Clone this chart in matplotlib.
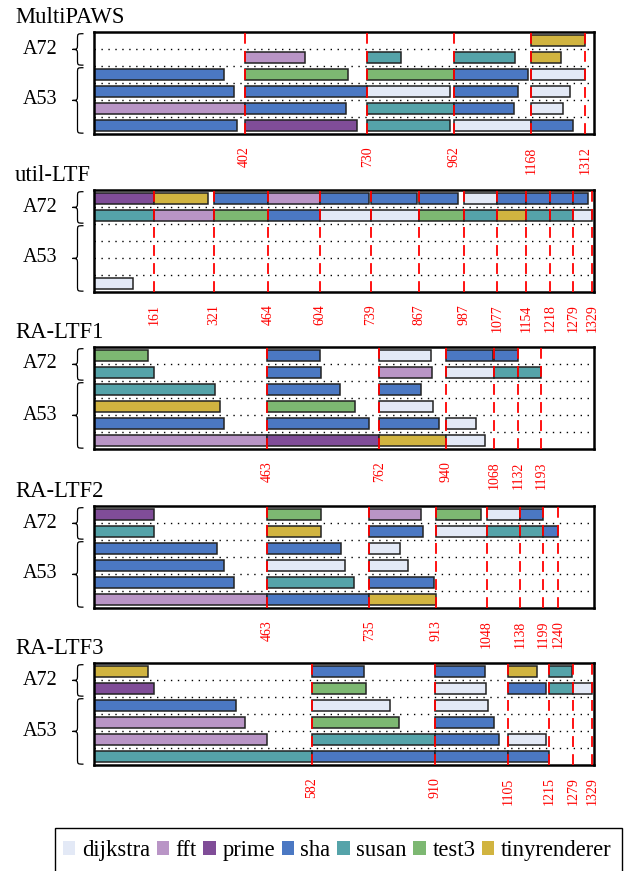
import matplotlib
matplotlib.use("Agg")
import matplotlib.pyplot as plt
from matplotlib.path import Path
from matplotlib.patches import PathPatch, Patch, Rectangle
from matplotlib.transforms import blended_transform_factory

plt.rcParams['font.family'] = ['Liberation Serif', 'DejaVu Serif']

# task colours
tasks = ["dijkstra", "fft", "prime", "sha", "susan", "test3", "tinyrenderer"]
colors = {"dijkstra": "#e3e9f6", "fft": "#b995c6", "prime": "#804d98",
          "sha": "#4b78c3", "susan": "#55a3a9", "test3": "#7db872",
          "tinyrenderer": "#d1b440"}

# rows 0-1 = A72 cores, rows 2-5 = A53 cores; (task, start, end)
mp_rows = [
    [("tinyrenderer", 1168, 1312)],
    [("fft", 402, 563), ("susan", 730, 821), ("susan", 962, 1124), ("tinyrenderer", 1168, 1246)],
    [("sha", 0, 348), ("test3", 402, 679), ("test3", 730, 962), ("sha", 962, 1159), ("dijkstra", 1168, 1311)],
    [("sha", 0, 375), ("sha", 402, 730), ("dijkstra", 730, 951), ("sha", 962, 1133), ("dijkstra", 1168, 1272)],
    [("fft", 0, 402), ("sha", 402, 674), ("susan", 730, 960), ("sha", 962, 1122), ("dijkstra", 1168, 1251)],
    [("sha", 0, 381), ("prime", 402, 701), ("susan", 730, 951), ("dijkstra", 962, 1168), ("sha", 1168, 1280)],
]
mp_ticks = [402, 730, 962, 1168, 1312]

ul_rows = [
    [("prime", 0, 161), ("tinyrenderer", 161, 305), ("sha", 321, 464), ("fft", 464, 604), ("sha", 604, 735),
     ("sha", 739, 863), ("sha", 867, 972), ("dijkstra", 987, 1075), ("sha", 1077, 1153), ("sha", 1154, 1218),
     ("sha", 1218, 1279), ("sha", 1279, 1320)],
    [("susan", 0, 161), ("fft", 161, 321), ("test3", 321, 464), ("sha", 464, 604), ("dijkstra", 604, 739),
     ("dijkstra", 739, 867), ("test3", 867, 987), ("susan", 987, 1077), ("tinyrenderer", 1077, 1154),
     ("susan", 1154, 1218), ("susan", 1218, 1279), ("dijkstra", 1279, 1329)],
    [],
    [],
    [],
    [("dijkstra", 0, 104)],
]
ul_ticks = [161, 321, 464, 604, 739, 867, 987, 1077, 1154, 1218, 1279, 1329]

r1_rows = [
    [("test3", 0, 143), ("sha", 463, 604), ("dijkstra", 762, 899), ("sha", 940, 1066), ("sha", 1068, 1132)],
    [("susan", 0, 161), ("sha", 463, 606), ("fft", 762, 902), ("dijkstra", 940, 1068), ("susan", 1068, 1132),
     ("susan", 1132, 1193)],
    [("susan", 0, 324), ("sha", 463, 658), ("sha", 762, 873)],
    [("tinyrenderer", 0, 337), ("test3", 463, 696), ("dijkstra", 762, 904)],
    [("sha", 0, 348), ("sha", 463, 735), ("sha", 762, 922), ("dijkstra", 940, 1021)],
    [("fft", 0, 463), ("prime", 463, 762), ("tinyrenderer", 762, 940), ("dijkstra", 940, 1045)],
]
r1_ticks = [463, 762, 940, 1068, 1132, 1193]

r2_rows = [
    [("prime", 0, 160), ("test3", 463, 607), ("fft", 735, 874), ("test3", 913, 1034), ("dijkstra", 1048, 1138),
     ("sha", 1138, 1199)],
    [("susan", 0, 161), ("tinyrenderer", 463, 607), ("sha", 735, 878), ("dijkstra", 913, 1048),
     ("susan", 1048, 1138), ("susan", 1138, 1199), ("sha", 1199, 1240)],
    [("sha", 0, 329), ("sha", 463, 660), ("dijkstra", 735, 816)],
    [("sha", 0, 348), ("dijkstra", 463, 669), ("dijkstra", 735, 839)],
    [("sha", 0, 375), ("susan", 463, 693), ("sha", 735, 907)],
    [("fft", 0, 463), ("sha", 463, 735), ("tinyrenderer", 735, 913)],
]
r2_ticks = [463, 735, 913, 1048, 1138, 1199, 1240]

r3_rows = [
    [("tinyrenderer", 0, 144), ("sha", 582, 722), ("sha", 910, 1043), ("tinyrenderer", 1105, 1184),
     ("susan", 1215, 1277)],
    [("prime", 0, 161), ("test3", 582, 726), ("dijkstra", 910, 1046), ("sha", 1105, 1208),
     ("susan", 1215, 1279), ("dijkstra", 1279, 1329)],
    [("sha", 0, 380), ("dijkstra", 582, 789), ("dijkstra", 910, 1052)],
    [("fft", 0, 402), ("test3", 582, 815), ("sha", 910, 1069)],
    [("fft", 0, 463), ("susan", 582, 910), ("sha", 910, 1082), ("dijkstra", 1105, 1208)],
    [("susan", 0, 582), ("sha", 582, 910), ("sha", 910, 1105), ("sha", 1105, 1215)],
]
r3_ticks = [582, 910, 1105, 1215, 1279, 1329]

panels = [("MultiPAWS", mp_rows, mp_ticks), ("util-LTF", ul_rows, ul_ticks),
          ("RA-LTF1", r1_rows, r1_ticks), ("RA-LTF2", r2_rows, r2_ticks),
          ("RA-LTF3", r3_rows, r3_ticks)]
panel_tops = [32, 190, 347, 506, 663]  # pixels from top

W, H = 626, 871
fig = plt.figure(figsize=(W / 100, H / 100), dpi=100)


def brace(ax, ya, yb):
    # curly brace left of the axes, x in axes fraction, y in rows
    tr = blended_transform_factory(ax.transAxes, ax.transData)
    xe, xm, xt = -0.021, -0.033, -0.043
    ym = (ya + yb) / 2
    d = 0.3
    verts = [(xe, ya), (xm, ya), (xm, ya), (xm, ya + d),
             (xm, ym - d),
             (xm, ym - d / 6), (xm, ym), (xt, ym),
             (xm, ym), (xm, ym + d / 6), (xm, ym + d),
             (xm, yb - d),
             (xm, yb), (xm, yb), (xe, yb)]
    codes = [Path.MOVETO, Path.CURVE4, Path.CURVE4, Path.CURVE4,
             Path.LINETO,
             Path.CURVE4, Path.CURVE4, Path.CURVE4,
             Path.CURVE4, Path.CURVE4, Path.CURVE4,
             Path.LINETO,
             Path.CURVE4, Path.CURVE4, Path.CURVE4]
    ax.add_patch(PathPatch(Path(verts, codes), fc='none', ec='black', lw=0.9,
                           transform=tr, clip_on=False))


for (name, rows, ticks), top in zip(panels, panel_tops):
    ax = fig.add_axes([94 / W, 1 - (top + 102) / H, 500 / W, 102 / H])
    for i, row in enumerate(rows):
        for task, s, e in row:
            ax.barh(i, e - s, left=s, height=0.68, color=colors[task],
                    edgecolor='#222222', linewidth=1.1, zorder=2)
    for i in range(5):
        ax.axhline(i + 0.5, color='black', ls=(0, (1, 4)), lw=1.0, zorder=1)
    for t in ticks:
        ax.axvline(t, color='red', ls=(0, (6, 4)), lw=1.3, zorder=3)
    ax.set_xlim(0, 1335)
    ax.set_ylim(5.5, -0.5)
    ax.set_yticks([])
    ax.set_xticks(ticks)
    ax.set_xticklabels([str(t) for t in ticks], rotation=90, color='red', fontsize=10)
    ax.tick_params(axis='x', length=0, pad=9)
    for sp in ax.spines.values():
        sp.set_linewidth(1.8)
    tr = blended_transform_factory(ax.transAxes, ax.transData)
    ax.text(-0.108, 0.5, "A72", transform=tr, ha='center', va='center', fontsize=14.5)
    ax.text(-0.108, 3.5, "A53", transform=tr, ha='center', va='center', fontsize=14.5)
    brace(ax, -0.4, 1.45)
    brace(ax, 1.6, 5.45)
    fig.text(15 / W, 1 - (top - 9) / H, name, fontsize=16.3, va='baseline', ha='left')

# legend box runs off the bottom of the figure in the original
fig.patches.append(Rectangle((55 / W, -0.02), (622 - 55) / W, 0.02 + 1 - 828 / H,
                             transform=fig.transFigure, fill=False, ec='black', lw=1.0))
handles = [Patch(facecolor=colors[t], edgecolor='none', label=t) for t in tasks]
leg = fig.legend(handles=handles, loc='upper left', bbox_to_anchor=(55 / W, 1 - 832 / H),
                 ncol=7, fontsize=16.3, handlelength=0.55, handleheight=0.55,
                 handletextpad=0.28, columnspacing=0.3, borderpad=0.35,
                 borderaxespad=0, frameon=False)

fig.savefig("out.png", dpi=100)
